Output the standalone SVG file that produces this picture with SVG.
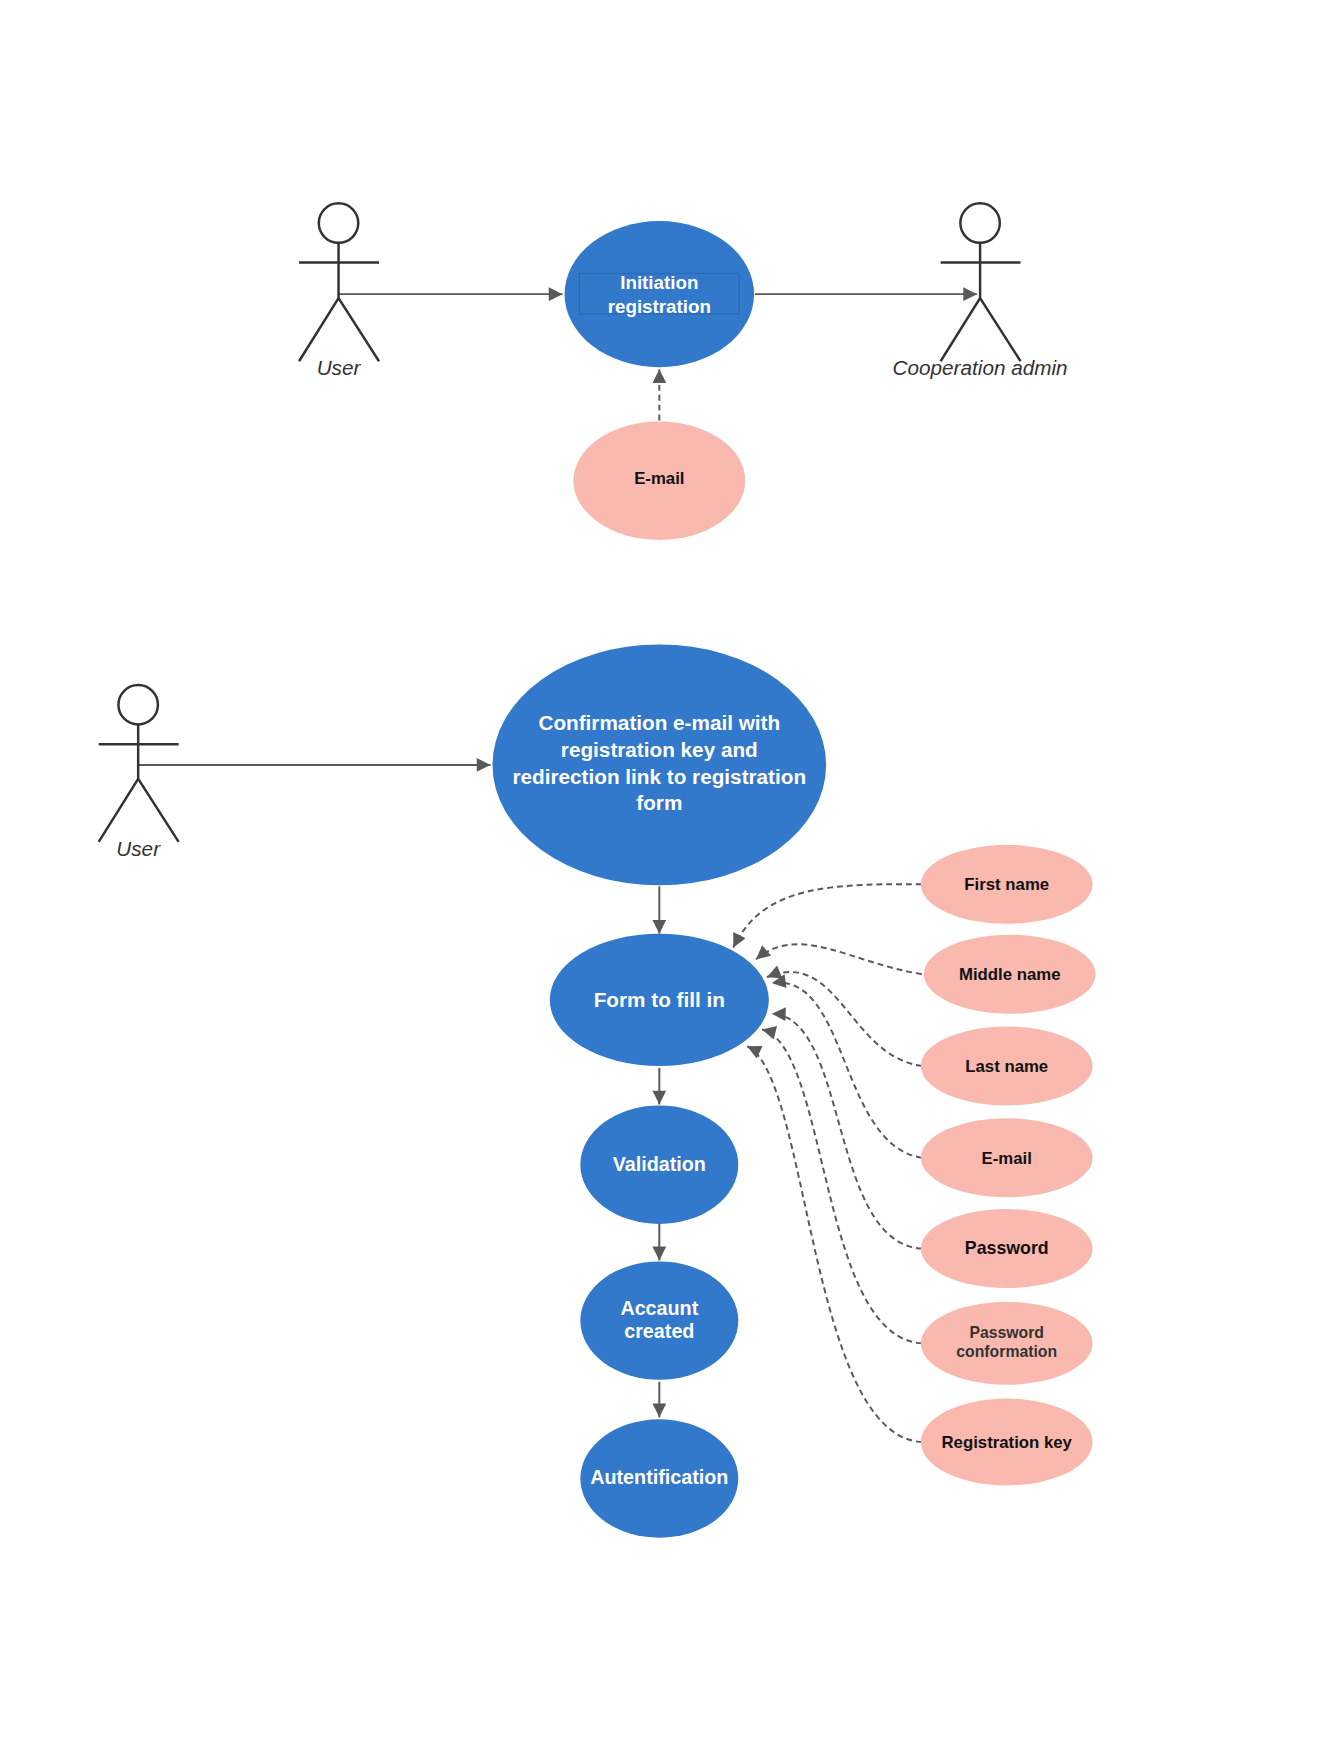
<svg xmlns="http://www.w3.org/2000/svg" width="1322" height="1763" viewBox="0 0 1322 1763">
<style>
.uc{fill:#3278CB}
.pk{fill:#F9B9AE}
.wt{font-family:"Liberation Sans",Arial,sans-serif;font-weight:bold;fill:#fff;text-anchor:middle;font-size:20px}
.bt{font-family:"Liberation Sans",Arial,sans-serif;font-weight:bold;fill:#111;text-anchor:middle;font-size:17px}
.al{font-family:"Liberation Sans",Arial,sans-serif;font-style:italic;fill:#333;text-anchor:middle;font-size:21px}
.act{fill:none;stroke:#333;stroke-width:2.5}
.ln{fill:none;stroke:#595959;stroke-width:2}
.dl{fill:none;stroke:#595959;stroke-width:2;stroke-dasharray:6 4}
</style>
<defs>
<marker id="ahb" viewBox="0 0 10 10" refX="10" refY="5" markerWidth="18" markerHeight="14" markerUnits="userSpaceOnUse" orient="auto"><path d="M0,0 L10,5 L0,10 z" fill="#595959"/></marker>
</defs>
<rect width="1322" height="1763" fill="#fff"/>
<g transform="scale(0.987)">
<g id="connectors">
<path class="ln" d="M343,298 H570" marker-end="url(#ahb)"/>
<path class="ln" d="M765,298 H990" marker-end="url(#ahb)"/>
<path class="dl" d="M668,426 V374" marker-end="url(#ahb)"/>
<path class="ln" d="M140,775 H497" marker-end="url(#ahb)"/>
<path class="ln" d="M668,898 V946" marker-end="url(#ahb)"/>
<path class="ln" d="M668,1082 V1119" marker-end="url(#ahb)"/>
<path class="ln" d="M668,1240 V1277" marker-end="url(#ahb)"/>
<path class="ln" d="M668,1400 V1436" marker-end="url(#ahb)"/>
<path class="dl" d="M934,896 C820,894 770,905 743,960" marker-end="url(#ahb)"/>
<path class="dl" d="M934,987 C860,975 810,935 766,972" marker-end="url(#ahb)"/>
<path class="dl" d="M934,1080 C860,1070 850,960 777,990" marker-end="url(#ahb)"/>
<path class="dl" d="M934,1173 C850,1160 860,985 782,996" marker-end="url(#ahb)"/>
<path class="dl" d="M934,1265 C840,1260 860,1030 782,1027" marker-end="url(#ahb)"/>
<path class="dl" d="M934,1361 C830,1355 840,1060 772,1043" marker-end="url(#ahb)"/>
<path class="dl" d="M934,1461 C820,1455 820,1090 757,1060" marker-end="url(#ahb)"/>
</g>
<g id="actor-user1"><circle class="act" cx="343" cy="226" r="20"/><path class="act" d="M343,246 V302 M303,266 H384 M303,366 L343,302 L384,366"/><text class="al" x="343" y="380">User</text></g>
<g id="actor-admin"><circle class="act" cx="993" cy="226" r="20"/><path class="act" d="M993,246 V302 M953,266 H1034 M953,366 L993,302 L1034,366"/><text class="al" x="993" y="380">Cooperation admin</text></g>
<g id="actor-user2"><circle class="act" cx="140" cy="714" r="20"/><path class="act" d="M140,734 V789 M100,754 H181 M100,853 L140,789 L181,853"/><text class="al" x="140" y="867">User</text></g>
<g id="initiation"><ellipse class="uc" cx="668" cy="298" rx="96" ry="74"/><rect x="587" y="277" width="162" height="41" fill="none" stroke="#2a66ad" stroke-width="1"/><text class="wt" x="668" y="293" style="font-size:19px">Initiation</text><text class="wt" x="668" y="317" style="font-size:19px">registration</text></g>
<g id="email-top"><ellipse class="pk" cx="668" cy="487" rx="87" ry="60"/><text class="bt" x="668" y="490">E-mail</text></g>
<g id="confirmation"><ellipse class="uc" cx="668" cy="775" rx="169" ry="122"/><text class="wt" x="668" y="740" style="font-size:21px">Confirmation e-mail with</text><text class="wt" x="668" y="767" style="font-size:21px">registration key and</text><text class="wt" x="668" y="794" style="font-size:21px">redirection link to registration</text><text class="wt" x="668" y="821" style="font-size:21px">form</text></g>
<g id="form"><ellipse class="uc" cx="668" cy="1013" rx="111" ry="67"/><text class="wt" x="668" y="1020" style="font-size:21px">Form to fill in</text></g>
<g id="validation"><ellipse class="uc" cx="668" cy="1180" rx="80" ry="60"/><text class="wt" x="668" y="1186">Validation</text></g>
<g id="account"><ellipse class="uc" cx="668" cy="1338" rx="80" ry="60"/><text class="wt" x="668" y="1332">Accaunt</text><text class="wt" x="668" y="1356">created</text></g>
<g id="autentification"><ellipse class="uc" cx="668" cy="1498" rx="80" ry="60"/><text class="wt" x="668" y="1504">Autentification</text></g>
<g id="first-name"><ellipse class="pk" cx="1020" cy="896" rx="87" ry="40"/><text class="bt" x="1020" y="902">First name</text></g>
<g id="middle-name"><ellipse class="pk" cx="1023" cy="987" rx="87" ry="40"/><text class="bt" x="1023" y="993">Middle name</text></g>
<g id="last-name"><ellipse class="pk" cx="1020" cy="1080" rx="87" ry="40"/><text class="bt" x="1020" y="1086">Last name</text></g>
<g id="email"><ellipse class="pk" cx="1020" cy="1173" rx="87" ry="40"/><text class="bt" x="1020" y="1179">E-mail</text></g>
<g id="password"><ellipse class="pk" cx="1020" cy="1265" rx="87" ry="40"/><text class="bt" x="1020" y="1271" style="font-size:18px">Password</text></g>
<g id="password-conf"><ellipse class="pk" cx="1020" cy="1361" rx="87" ry="42"/><text class="bt" x="1020" y="1356" style="font-size:16px;fill:#333">Password</text><text class="bt" x="1020" y="1375" style="font-size:16px;fill:#333">conformation</text></g>
<g id="reg-key"><ellipse class="pk" cx="1020" cy="1461" rx="87" ry="44"/><text class="bt" x="1020" y="1467">Registration key</text></g>
</g>
</svg>
